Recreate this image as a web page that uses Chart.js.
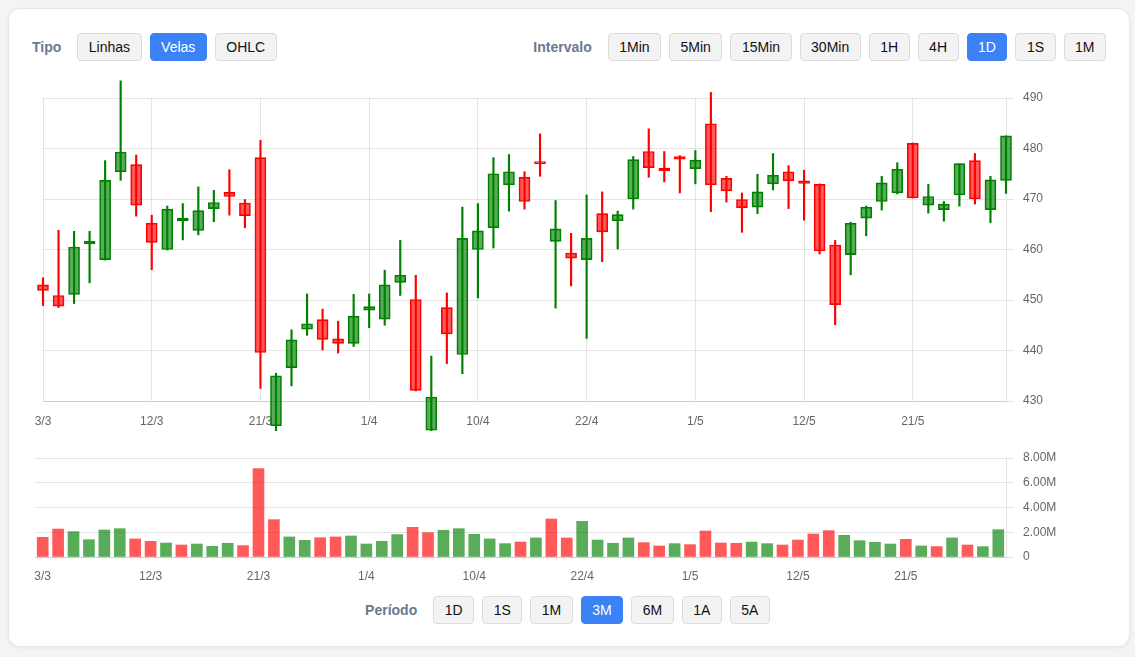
<!DOCTYPE html>
<html lang="pt-BR">
<head>
<meta charset="utf-8">
<title>Gráfico de velas</title>
<script src="https://cdn.jsdelivr.net/npm/chart.js@4.4.1/dist/chart.umd.min.js"></script>
<style>
	html, body { margin: 0; padding: 0; }
	body { width: 1135px; height: 657px; background: #f4f4f5; position: relative; overflow: hidden;
		font-family: "Liberation Sans", Arial, Helvetica, sans-serif; }
	.card { position: absolute; left: 8px; top: 8px; width: 1120px; height: 637px; background: #fff;
		border: 1px solid #e7e7e7; border-radius: 12px; box-shadow: 0 1px 4px rgba(0,0,0,0.05); }
	.grupo { position: absolute; display: flex; align-items: center; height: 28px; }
	.rotulo { font-weight: bold; font-size: 14px; color: #6b7890; margin-right: 16px; }
	.btn { height: 28px; box-sizing: border-box; padding: 0 10.5px; font-size: 14px; line-height: 26px;
		border: 1px solid #dcdcdc; border-radius: 4px; background: #f3f3f3; color: #111; margin-right: 8px; }
	.btn:last-child { margin-right: 0; }
	.btn.ativo { background: #3b82f6; border-color: #3b82f6; color: #fff; }
	canvas { position: absolute; left: 0; }
</style>
</head>
<body>
<div class="card"></div>

<div class="grupo" style="left: 32px; top: 33px;">
	<span class="rotulo">Tipo</span>
	<span class="btn">Linhas</span>
	<span class="btn ativo">Velas</span>
	<span class="btn">OHLC</span>
</div>

<div class="grupo" style="right: 29px; top: 33px;">
	<span class="rotulo">Intervalo</span>
	<span class="btn">1Min</span>
	<span class="btn">5Min</span>
	<span class="btn">15Min</span>
	<span class="btn">30Min</span>
	<span class="btn">1H</span>
	<span class="btn">4H</span>
	<span class="btn ativo">1D</span>
	<span class="btn">1S</span>
	<span class="btn">1M</span>
</div>

<div class="grupo" style="left: 0; width: 1135px; justify-content: center; top: 596px;">
	<span class="rotulo">Período</span>
	<span class="btn">1D</span>
	<span class="btn">1S</span>
	<span class="btn">1M</span>
	<span class="btn ativo">3M</span>
	<span class="btn">6M</span>
	<span class="btn">1A</span>
	<span class="btn">5A</span>
</div>

<canvas id="graficoPreco" width="1080" height="361" style="top: 70px;"></canvas>
<canvas id="graficoVolume" width="1080" height="147" style="top: 440px;"></canvas>

<script>
var datas = ['3/3', '4/3', '5/3', '6/3', '7/3', '10/3', '11/3', '12/3', '13/3', '14/3',
	'17/3', '18/3', '19/3', '20/3', '21/3', '24/3', '25/3', '26/3', '27/3', '28/3', '31/3',
	'1/4', '2/4', '3/4', '4/4', '7/4', '8/4', '9/4', '10/4', '11/4', '14/4', '15/4', '16/4', '17/4',
	'21/4', '22/4', '23/4', '24/4', '25/4', '28/4', '29/4', '30/4',
	'1/5', '2/5', '5/5', '6/5', '7/5', '8/5', '9/5', '12/5', '13/5', '14/5', '15/5', '16/5',
	'19/5', '20/5', '21/5', '22/5', '23/5', '26/5', '27/5', '28/5', '29/5'];

var abertura = [453.0, 450.9, 451.1, 461.1, 458.0, 475.4, 476.8, 465.2, 460.0, 465.7,
	463.8, 468.1, 471.3, 469.2, 478.2, 425.1, 436.6, 444.2, 446.1, 442.3, 441.4,
	448.0, 446.2, 453.5, 450.1, 424.2, 448.5, 439.2, 460.0, 464.3, 472.8, 474.3, 477.4, 461.6,
	459.3, 458.0, 467.1, 465.7, 470.0, 479.4, 476.1, 478.4,
	476.0, 484.9, 474.1, 469.9, 468.4, 473.0, 475.4, 473.6, 472.9, 460.9, 459.0, 466.2,
	469.5, 471.2, 481.0, 468.8, 467.9, 470.8, 477.6, 467.9, 473.7];

var maxima = [454.4, 463.8, 463.6, 463.6, 477.6, 493.4, 478.7, 466.8, 468.6, 469.1,
	472.4, 471.7, 475.8, 469.9, 481.6, 435.5, 444.1, 451.2, 448.2, 445.8, 451.1,
	451.2, 455.9, 461.8, 454.9, 438.9, 451.4, 468.4, 469.1, 478.2, 478.8, 475.4, 482.9, 469.7,
	463.2, 470.8, 471.4, 467.6, 478.4, 483.9, 479.4, 478.6,
	479.6, 491.1, 474.5, 471.2, 474.9, 479.0, 476.6, 475.7, 473.0, 461.8, 465.4, 468.6,
	474.5, 477.2, 481.1, 472.9, 469.5, 477.0, 479.0, 474.5, 482.5];

var minima = [448.9, 448.5, 449.3, 453.4, 457.9, 473.7, 466.6, 456.0, 459.9, 461.9,
	462.9, 465.5, 466.8, 464.3, 432.5, 424.1, 433.0, 443.0, 440.1, 439.5, 440.8,
	444.5, 445.0, 450.9, 432.0, 424.0, 437.4, 435.4, 450.4, 460.3, 467.6, 468.0, 474.5, 448.4,
	452.8, 442.4, 457.6, 460.1, 468.0, 474.3, 473.4, 471.2,
	473.0, 467.5, 469.4, 463.4, 467.1, 471.8, 468.1, 465.8, 459.1, 445.1, 455.0, 462.7,
	467.8, 471.0, 470.2, 467.2, 465.6, 468.6, 469.0, 465.3, 471.1];

var fechamento = [451.9, 448.8, 460.5, 461.6, 473.7, 479.3, 468.8, 461.4, 468.0, 466.2,
	467.7, 469.3, 470.5, 466.7, 439.6, 435.0, 442.1, 445.3, 442.2, 441.4, 446.8,
	448.7, 453.0, 454.9, 432.1, 430.8, 443.3, 462.2, 463.7, 475.0, 475.4, 469.5, 477.0, 464.1,
	458.3, 462.2, 463.5, 466.9, 477.8, 476.2, 475.6, 477.9,
	477.7, 472.8, 471.6, 468.3, 471.4, 474.7, 473.6, 473.1, 459.7, 449.1, 465.2, 468.4,
	473.2, 475.9, 470.2, 470.5, 469.0, 477.0, 470.0, 473.8, 482.5];

var volume = [1590000, 2260000, 2050000, 1400000, 2180000, 2290000, 1460000, 1270000, 1130000, 970000,
	1050000, 860000, 1110000, 920000, 7140000, 3020000, 1620000, 1350000, 1560000, 1620000, 1700000,
	1050000, 1270000, 1810000, 2400000, 1970000, 2160000, 2290000, 1830000, 1460000, 1080000, 1210000, 1540000, 3070000,
	1540000, 2880000, 1370000, 1110000, 1540000, 1160000, 890000, 1080000,
	1000000, 2100000, 1130000, 1110000, 1210000, 1080000, 970000, 1370000, 1860000, 2130000, 1750000, 1320000,
	1190000, 1050000, 1430000, 890000, 840000, 1540000, 970000, 840000, 2210000];

var verdeSolido = 'rgb(0,128,0)';
var verdeClaro = 'rgba(0,128,0,0.65)';
var vermelhoSolido = 'rgb(255,0,0)';
var vermelhoClaro = 'rgba(255,0,0,0.65)';
var corGrade = 'rgba(0,0,0,0.1)';

Chart.defaults.font.family = '"Liberation Sans", Arial, Helvetica, sans-serif';
Chart.defaults.font.size = 12;
Chart.defaults.color = '#666';

function subiu(i) {
	return fechamento[i] >= abertura[i];
}

function volumeSubiu(i) {
	if (i === 0) return fechamento[0] >= abertura[0];
	return fechamento[i] >= fechamento[i - 1];
}

function rotuloSemanal(valor, indice) {
	return indice % 7 === 0 ? this.getLabelForValue(valor) : '';
}

var corpos = abertura.map(function(o, i) { return [o, fechamento[i]]; });
var pavios = minima.map(function(l, i) { return [l, maxima[i]]; });

new Chart(document.getElementById('graficoPreco').getContext('2d'), {
	type: 'bar',
	data: {
		labels: datas,
		datasets: [{
			label: 'Corpo',
			data: corpos,
			grouped: false,
			clip: false,
			barThickness: 11,
			borderWidth: 1,
			borderSkipped: false,
			backgroundColor: function(ctx) { return subiu(ctx.dataIndex) ? verdeClaro : vermelhoClaro; },
			borderColor: function(ctx) { return subiu(ctx.dataIndex) ? verdeSolido : vermelhoSolido; }
		}, {
			label: 'Pavio',
			data: pavios,
			grouped: false,
			clip: false,
			barThickness: 1.5,
			borderWidth: 0,
			backgroundColor: function(ctx) { return subiu(ctx.dataIndex) ? verdeSolido : vermelhoSolido; }
		}]
	},
	options: {
		responsive: false,
		animation: false,
		layout: { padding: { left: 43, top: 28, right: 0, bottom: 0 } },
		plugins: { legend: { display: false }, tooltip: { enabled: false } },
		scales: {
			x: {
				offset: false,
				grid: {
					offset: false,
					drawTicks: false,
					color: function(ctx) { return ctx.index % 7 === 0 ? corGrade : 'rgba(0,0,0,0)'; }
				},
				ticks: { autoSkip: false, maxRotation: 0, padding: 13, callback: rotuloSemanal },
				afterFit: function(escala) { escala.height = 30; }
			},
			y: {
				position: 'right',
				min: 430,
				max: 490,
				grid: { color: corGrade, tickLength: 8 },
				ticks: { stepSize: 10, padding: 9 },
				afterFit: function(escala) { escala.width = 74; }
			}
		}
	}
});

new Chart(document.getElementById('graficoVolume').getContext('2d'), {
	type: 'bar',
	data: {
		labels: datas,
		datasets: [{
			label: 'Volume',
			data: volume,
			barThickness: 11,
			borderWidth: 0,
			backgroundColor: function(ctx) { return volumeSubiu(ctx.dataIndex) ? verdeClaro : vermelhoClaro; }
		}]
	},
	options: {
		responsive: false,
		animation: false,
		layout: { padding: { left: 35, top: 18, right: 0, bottom: 0 } },
		plugins: { legend: { display: false }, tooltip: { enabled: false } },
		scales: {
			x: {
				grid: { display: false },
				ticks: { autoSkip: false, maxRotation: 0, padding: 4, callback: rotuloSemanal },
				afterFit: function(escala) { escala.height = 30; }
			},
			y: {
				position: 'right',
				min: 0,
				max: 8000000,
				grid: { color: corGrade, tickLength: 8 },
				ticks: {
					stepSize: 2000000,
					padding: 9,
					callback: function(v) { return v === 0 ? '0' : (v / 1000000).toFixed(2) + 'M'; }
				},
				afterFit: function(escala) { escala.width = 74; }
			}
		}
	}
});
</script>
</body>
</html>
